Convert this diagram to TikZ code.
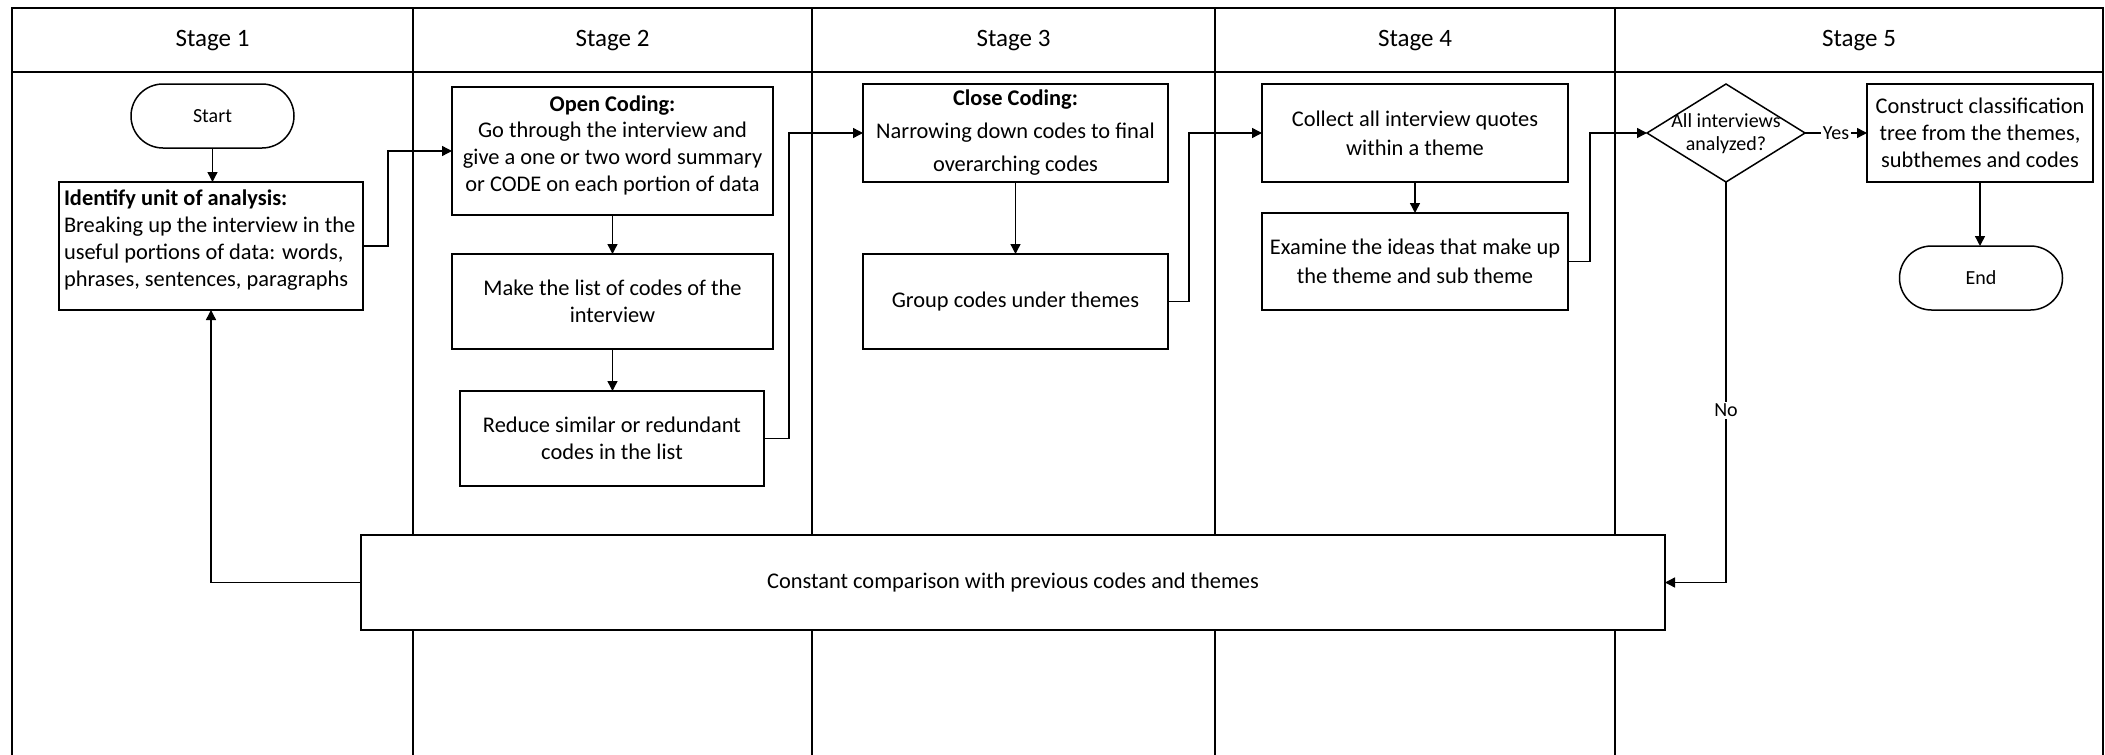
\documentclass[tikz,border=0pt]{standalone}
\usepackage{fontspec}
\setmainfont{Carlito}
\usetikzlibrary{arrows.meta,shapes.geometric}
\begin{document}
\begin{tikzpicture}[x=0.5pt,y=-0.5pt,
  every node/.style={inner sep=0pt, outer sep=0pt},
  lane/.style={line width=0.7pt},
  flowbox/.style={draw, rectangle, line width=0.75pt, fill=white},
  terminal/.style={draw, rectangle, line width=0.75pt, rounded corners=16pt, fill=white,
                   minimum width=81.5pt, minimum height=32pt},
  decision/.style={draw, diamond, line width=0.75pt, minimum width=79pt, minimum height=49pt},
  body/.style={font=\fontsize{11.2}{13.35}\selectfont, align=center},
  small/.style={font=\fontsize{10}{11.5}\selectfont, align=center},
  stagehead/.style={font=\fontsize{12.5}{15}\selectfont},
  arr/.style={line width=0.7pt, -{Triangle[length=5pt,width=5pt]}},
  edgelabel/.style={fill=white, font=\fontsize{10}{12}\selectfont, inner sep=1pt},
]
\useasboundingbox (0,0) rectangle (2105,755);

% swimlane frame and header row
\draw[lane] (12,755) -- (12,8) -- (2103,8) -- (2103,755);
\draw[lane] (12,72) -- (2103,72);
\draw[lane] (413,8) -- (413,755);
\draw[lane] (812,8) -- (812,72);
\draw[line width=1.2pt] (812,72) -- (812,755);
\draw[lane] (1215,8) -- (1215,755);
\draw[lane] (1615,8) -- (1615,755);

\node[stagehead] (s1) at (212.5,41) {Stage 1};
\node[stagehead] (s2) at (612.5,41) {Stage 2};
\node[stagehead] (s3) at (1013.5,41) {Stage 3};
\node[stagehead] (s4) at (1415,41) {Stage 4};
\node[stagehead] (s5) at (1859,41) {Stage 5};

% Stage 1
\node[terminal, small] (start) at (212.5,116) {Start};
\node[flowbox, minimum width=152pt, minimum height=64pt] (identify) at (211,246) {};
\node[body, align=left, anchor=west] (identify-text) at (64,240)
  {\textbf{Identify unit of analysis:}\\Breaking up the interview in the\\useful portions of data: words,\\phrases, sentences, paragraphs};

% Stage 2
\node[flowbox, minimum width=160.5pt, minimum height=64pt] (open) at (612.5,151) {};
\node[body] (open-text) at (612.5,145)
  {\textbf{Open Coding:}\\Go through the interview and\\give a one or two word summary\\or CODE on each portion of data};
\node[flowbox, body, minimum width=160.5pt, minimum height=47.5pt] (make) at (612.5,301.5)
  {Make the list of codes of the\\interview};
\node[flowbox, body, minimum width=152pt, minimum height=47.5pt] (reduce) at (612,438.5)
  {Reduce similar or redundant\\codes in the list};

% Stage 3
\node[flowbox, body, font=\fontsize{11.2}{16.5}\selectfont, minimum width=152.5pt, minimum height=49pt] (close) at (1015.5,133)
  {\textbf{Close Coding:}\\Narrowing down codes to final\\overarching codes};
\node[flowbox, body, minimum width=152.5pt, minimum height=47.5pt] (group) at (1015.5,301.5)
  {Group codes under themes};

% Stage 4
\node[flowbox, body, font=\fontsize{11.2}{14.35}\selectfont, minimum width=153pt, minimum height=49pt] (collect) at (1415,133)
  {Collect all interview quotes\\within a theme};
\node[flowbox, body, font=\fontsize{11.2}{14.35}\selectfont, minimum width=153pt, minimum height=48.5pt] (examine) at (1415,261.5)
  {Examine the ideas that make up\\the theme and sub theme};

% Stage 5
\node[decision] (decision) at (1726,133) {};
\node[small] (decision-text) at (1726,133.5) {All interviews\\analyzed?};
\node[flowbox, body, minimum width=113pt, minimum height=49pt] (construct) at (1980,133)
  {Construct classification\\tree from the themes,\\subthemes and codes};
\node[terminal, small] (finish) at (1981,278) {End};

% shared comparison step across the lanes
\node[flowbox, body, minimum width=652pt, minimum height=47.5pt] (constant) at (1013,582.5)
  {Constant comparison with previous codes and themes};

% connectors
\draw[arr] (start.south) -- (start.south |- identify.north);
\draw[arr] (identify.east) -- ++(25,0) |- (open.west);
\draw[arr] (open.south) -- (make.north);
\draw[arr] (make.south) -- (make.south |- reduce.north);
\draw[arr] (reduce.east) -- ++(25,0) |- (close.west);
\draw[arr] (close.south) -- (group.north);
\draw[arr] (group.east) -- ++(21,0) |- (collect.west);
\draw[arr] (collect.south) -- (examine.north);
\draw[arr] (examine.east) -- ++(22,0) |- (decision.west);
\draw[arr] (decision.east) -- node[edgelabel] (yes) {Yes} (construct.west);
\draw[arr] (construct.south) -- (construct.south |- finish.north);
\draw[arr] (decision.south) |- node[edgelabel, pos=0.285] (no) {No} (constant.east);
\draw[arr] (constant.west) -| (identify.south);
\end{tikzpicture}
\end{document}
